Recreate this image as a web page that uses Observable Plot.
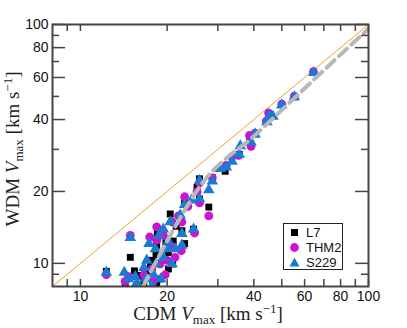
<!DOCTYPE html>
<html><head><meta charset="utf-8">
<script src="https://cdn.jsdelivr.net/npm/d3@7"></script>
<script src="https://cdn.jsdelivr.net/npm/@observablehq/plot@0.6"></script>
<style>
body{margin:0;background:#fff;}
#wrap{position:relative;width:407px;height:328px;}
.legend{position:absolute;left:283px;top:223px;width:60px;height:47px;border:1.5px solid #222;background:#fff;font:13px "Liberation Sans",Arial,sans-serif;color:#111;padding:0;box-sizing:border-box;}
.legend .row{position:absolute;left:0;height:15px;line-height:15px;width:56px;}
.legend svg{position:absolute;left:4px;top:1px;}
.legend span{position:absolute;left:22px;top:0;height:15px;line-height:15px;}
</style>
</head><body>
<div id="wrap"></div>
<script>
// series names
const seriesNames = ["L7", "THM2", "S229"];
// L7 (black squares)
const l7X = [64.4,55.3,45.0,38.7,35.6,32.1,31.8,28.7,25.9,25.4,25.9,27.9,23.0,23.0,24.7,18.5,19.4,14.9,15.4,14.3,12.3,17.0,17.7,18.3,18.9,18.4,20.2,20.9,18.4,20.2,21.0,22.5,20.5,16.6,22.3,19.8,17.5,21.5,16.2];
const l7Y = [63.2,49.8,42.3,33.8,28.6,25.7,24.3,22.8,22.6,20.8,18.6,17.2,18.3,12.1,13.9,13.4,13.4,10.6,9.3,8.05,9.26,9.3,10.3,10.9,8.6,8.2,9.47,9.94,11.9,11.1,12.4,13.7,16.1,8.3,15.2,12.2,9.8,14.3,8.9];
// THM2 (magenta circles)
const thm2X = [64.4,55.3,50.0,45.0,44.2,40.4,38.6,39.1,35.4,33.6,32.1,28.7,25.9,25.4,25.9,27.9,23.0,23.6,21.9,22.5,24.9,20.8,22.4,18.4,17.4,14.9,12.3,14.3,14.7,19.4,19.7,18.9,16.6,17.9,20.0,21.0,18.4,17.7,21.3];
const thm2Y = [63.4,50.1,46.4,42.6,39.4,35.1,34.3,30.9,28.3,27.9,25.7,22.8,21.7,19.9,17.9,15.8,19.0,17.3,15.8,14.9,13.4,14.9,11.3,14.2,12.9,13.1,8.96,8.4,8.8,13.1,8.96,9.94,8.96,8.4,10.3,11.7,12.5,9.47,10.6];
// S229 (blue triangles)
const s229X = [64.6,55.3,50.0,45.4,46.6,44.4,40.4,39.1,35.9,35.6,33.6,32.1,30.6,28.7,25.9,25.9,27.9,24.7,23.0,22.2,22.5,20.5,19.4,18.7,17.3,18.2,20.2,21.3,22.5,17.0,18.3,19.4,20.8,14.9,12.3,14.2,14.7,15.5,15.7,16.9,17.7,16.6,19.0,20.0,17.9,24.3];
const s229Y = [62.8,49.8,46.0,41.7,41.2,39.1,34.7,32.2,31.0,28.6,26.7,25.3,24.9,22.1,22.2,18.6,20.3,13.9,17.6,15.9,13.3,14.9,13.9,13.1,12.1,11.5,12.4,11.5,11.9,10.3,9.94,10.6,9.94,12.8,9.16,9.16,8.6,8.8,8.3,8.6,8.05,9.6,8.6,11.5,9.0,18.4];
// fitted relation (grey dashed)
const fitX = [16.5,20.8,26,41,76,100];
const fitY = [8,13.5,21,35,70.6,96];
// one-to-one line
const identity = [8,100];
// ticks
const xTickLabels = [10,20,40,60,80,100];
const xTicksAll = [9,10,20,30,40,50,60,70,80,90,100];
const yTickLabels = [10,20,40,60,80,100];
const yMinor = [9,30,50,70,90];

const toPts = (xs, ys) => xs.map((x,i)=>({x, y: ys[i]}));
const L7 = toPts(l7X, l7Y), THM2 = toPts(thm2X, thm2Y), S229 = toPts(s229X, s229Y);
const fit = toPts(fitX, fitY);

const W=407,H=328,mL=52,mR=39,mT=24,mB=42;
const pw=W-mL-mR, ph=H-mT-mB;
const axisCol="#444";
const colors={L7:"#000000",THM2:"#d011d0",S229:"#1b7bd3"};

const chart = Plot.plot({
  width:W,height:H,marginLeft:mL,marginRight:mR,marginTop:mT,marginBottom:mB,
  x:{type:"log",domain:[8,100]},
  y:{type:"log",domain:[8,100]},
  style:{fontFamily:"'Liberation Sans', Arial, sans-serif",fontSize:"14px",background:"#fff",color:"#111"},
  marks:[
    Plot.line(identity,{x:d=>d,y:d=>d,stroke:"#f0a030",strokeWidth:1}),
    Plot.dot(L7,{x:"x",y:"y",symbol:"square",r:3.9,fill:colors.L7,stroke:"none",clip:true}),
    Plot.dot(THM2,{x:"x",y:"y",symbol:"circle",r:4.4,fill:colors.THM2,stroke:"none",clip:true}),
    Plot.dot(S229,{x:"x",y:"y",symbol:"triangle",r:4.3,fill:colors.S229,stroke:"none",clip:true}),
    Plot.line(fit,{x:"x",y:"y",stroke:"#b8b8b8",strokeWidth:4,strokeDasharray:"11,6",curve:"monotone-x",clip:true}),
    // inward ticks
    Plot.tickY(yTickLabels,{y:d=>d,insetRight:pw-13,stroke:axisCol,strokeWidth:1.5}),
    Plot.tickY(yTickLabels,{y:d=>d,insetLeft:pw-13,stroke:axisCol,strokeWidth:1.5}),
    Plot.tickY(yMinor,{y:d=>d,insetRight:pw-7,stroke:axisCol,strokeWidth:1.5}),
    Plot.tickY(yMinor,{y:d=>d,insetLeft:pw-7,stroke:axisCol,strokeWidth:1.5}),
    Plot.tickX(xTicksAll,{x:d=>d,insetTop:ph-7,stroke:axisCol,strokeWidth:1.5}),
    Plot.tickX(xTicksAll,{x:d=>d,insetBottom:ph-7,stroke:axisCol,strokeWidth:1.5}),
    Plot.axisX({ticks:xTickLabels,tickSize:0,tickPadding:5,tickFormat:d=>String(d),label:null,fontSize:14}),
    Plot.axisY({ticks:yTickLabels,tickSize:0,tickPadding:4,tickFormat:d=>String(d),label:null,fontSize:14}),
    Plot.frame({stroke:axisCol,strokeWidth:2})
  ]
});
document.getElementById("wrap").appendChild(chart);

// axis titles (serif, with sub/superscripts)
const svg = d3.select(chart);
function title(g, base){
  const t = g.append("text").attr("font-family","'Liberation Serif','Times New Roman',serif").attr("font-size",19).attr("fill","#222").attr("text-anchor","middle");
  t.append("tspan").text(base+" ");
  t.append("tspan").attr("font-style","italic").text("V");
  t.append("tspan").attr("font-size",13).attr("dy",4).text("max");
  t.append("tspan").attr("dy",-4).text(" [km s");
  t.append("tspan").attr("font-size",13).attr("dy",-7).text("\u22121");
  t.append("tspan").attr("dy",7).text("]");
  return t;
}
title(svg.append("g").attr("transform",`translate(${mL+pw/2-2},320)`), "CDM");
title(svg.append("g").attr("transform",`translate(19,${mT+ph/2-6}) rotate(-90)`), "WDM");

// legend
const leg = document.createElement("div");
leg.className="legend";
const syms = {
  L7:`<rect x="3" y="3" width="7" height="7" fill="${colors.L7}"/>`,
  THM2:`<circle cx="6.5" cy="6.5" r="4.4" fill="${colors.THM2}"/>`,
  S229:`<path d="M6.5,1.5 L11.5,10.5 L1.5,10.5 Z" fill="${colors.S229}"/>`
};
seriesNames.forEach((n,i)=>{
  const r=document.createElement("div");
  r.className="row"; r.style.top=(0.5+i*15)+"px";
  r.innerHTML=`<svg width="13" height="13">${syms[n]}</svg><span>${n}</span>`;
  leg.appendChild(r);
});
document.getElementById("wrap").appendChild(leg);
</script>
</body></html>
